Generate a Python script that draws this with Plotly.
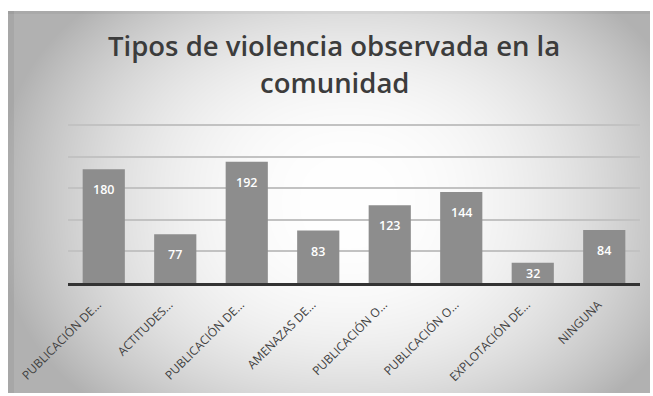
import base64
import struct
import zlib

import numpy as np
import plotly.graph_objects as go

# ---- data -------------------------------------------------------------
categorias = [
    "PUBLICACIÓN DE...",
    "ACTITUDES...",
    "PUBLICACIÓN DE...",
    "AMENAZAS DE...",
    "PUBLICACIÓN O...",
    "PUBLICACIÓN O...",
    "EXPLOTACIÓN DE...",
    "NINGUNA",
]
valores = [180, 77, 192, 83, 123, 144, 32, 84]
titulo_l1 = "Tipos de violencia observada en la"
titulo_l2 = "comunidad"

W, H = 653, 396

# ---- soft grey-to-white background (rendered as a small PNG) ----------
def gradient_png(w, h):
    yy, xx = np.mgrid[0:h, 0:w].astype(float)
    u = (xx - 0.53 * w) / (w / 2)
    v = (yy - 0.50 * h) / (h / 2)
    shade = np.minimum(1.0, 0.82 * np.abs(u) ** 2.2 + 0.45 * np.abs(v) ** 2.5)
    val = 255 - 78 * shade
    val[:, :6] -= 10          # darker left rim
    val[:3, :] -= 8           # darker top rim
    arr = np.clip(val, 0, 255).astype(np.uint8)
    raw = b"".join(b"\x00" + arr[i].tobytes() for i in range(h))

    def chunk(tag, data):
        c = struct.pack(">I", len(data)) + tag + data
        return c + struct.pack(">I", zlib.crc32(tag + data) & 0xFFFFFFFF)

    png = (b"\x89PNG\r\n\x1a\n"
           + chunk(b"IHDR", struct.pack(">IIBBBBB", w, h, 8, 0, 0, 0, 0))
           + chunk(b"IDAT", zlib.compress(raw, 9))
           + chunk(b"IEND", b""))
    return "data:image/png;base64," + base64.b64encode(png).decode()

bg_x0, bg_y0, bg_x1, bg_y1 = 8, 11, 650, 393
bg_src = gradient_png(bg_x1 - bg_x0, bg_y1 - bg_y0)

# ---- geometry of the plotting area --------------------------------------
plot_x0, plot_x1 = 68, 640
plot_bottom = 283
y_max = 252
px_per_unit = 0.632
plot_top = plot_bottom - y_max * px_per_unit

posiciones = list(range(len(categorias)))

fig = go.Figure(
    go.Bar(
        x=posiciones,
        y=valores,
        width=0.59,
        marker=dict(color="#8d8d8d", line=dict(width=0)),
        hoverinfo="skip",
    )
)

# value labels just inside the top of each bar
etiquetas = []
for x, v in zip(posiciones, valores):
    bar_px = v * px_per_unit
    shift = -min(10, max(0, bar_px - 20))
    etiquetas.append(dict(
        x=x, y=v, xref="x", yref="y", text=str(v), showarrow=False,
        xanchor="center", yanchor="top", yshift=shift,
        font=dict(family="Open Sans", size=12.5, color="#ffffff", weight=600),
    ))

titulo_font = dict(family="Open Sans", size=27.5, color="#3c3c3c", weight=600)

fig.update_layout(
    width=W,
    height=H,
    margin=dict(l=0, r=0, t=0, b=0),
    paper_bgcolor="#ffffff",
    plot_bgcolor="rgba(0,0,0,0)",
    showlegend=False,
    images=[dict(
        source=bg_src, xref="paper", yref="paper",
        x=bg_x0 / W, y=1 - bg_y0 / H,
        sizex=(bg_x1 - bg_x0) / W, sizey=(bg_y1 - bg_y0) / H,
        xanchor="left", yanchor="top", sizing="stretch", layer="below",
    )],
    xaxis=dict(
        domain=[plot_x0 / W, plot_x1 / W],
        range=[-0.5, len(categorias) - 0.5],
        tickmode="array",
        tickvals=posiciones,
        ticktext=categorias,
        tickangle=-45,
        tickfont=dict(family="Open Sans", size=12, color="#404040"),
        ticklabelstandoff=7,
        ticklabelshift=-6,
        showline=True,
        linecolor="#333333",
        linewidth=3,
        ticks="",
        showgrid=False,
        zeroline=False,
        automargin=False,
        fixedrange=True,
    ),
    yaxis=dict(
        domain=[1 - plot_bottom / H, 1 - plot_top / H],
        range=[0, y_max],
        tick0=0,
        dtick=50,
        showticklabels=False,
        showgrid=True,
        gridcolor="#c2c2c2",
        gridwidth=1.5,
        zeroline=False,
        automargin=False,
        fixedrange=True,
    ),
    annotations=etiquetas + [
        dict(text=titulo_l1, xref="paper", yref="paper", x=334 / W, y=1 - 45 / H,
             xanchor="center", yanchor="middle", showarrow=False, font=titulo_font),
        dict(text=titulo_l2, xref="paper", yref="paper", x=334 / W, y=1 - 83 / H,
             xanchor="center", yanchor="middle", showarrow=False, font=titulo_font),
    ],
)

fig.write_html("out.html")
